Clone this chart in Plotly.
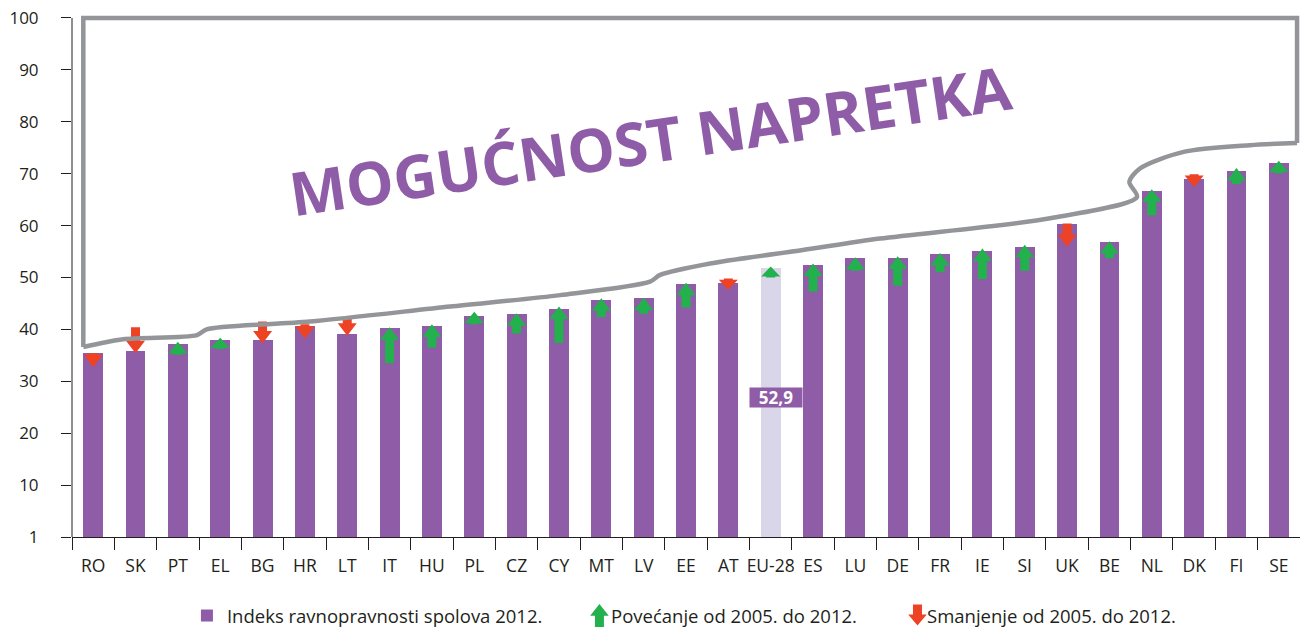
import plotly.graph_objects as go

# ---------------- data ----------------
categories = ['RO', 'SK', 'PT', 'EL', 'BG', 'HR', 'LT', 'IT', 'HU', 'PL', 'CZ', 'CY', 'MT', 'LV',
              'EE', 'AT', 'EU-28', 'ES', 'LU', 'DE', 'FR', 'IE', 'SI', 'UK', 'BE', 'NL', 'DK', 'FI', 'SE']
index_2012 = [35.4, 35.8, 37.2, 37.9, 37.9, 40.6, 39.2, 40.2, 40.6, 42.6, 43.0, 43.9, 45.6, 46.0,
              48.7, 49.0, 51.8, 52.4, 53.7, 53.8, 54.5, 55.2, 55.8, 60.3, 56.8, 66.6, 69.0, 70.5, 72.1]
# arrow start / end (change 2005 -> 2012 as drawn)
change_from = [35.4, 40.4, 35.1, 36.2, 41.5, 41.0, 42.1, 33.5, 36.5, 41.0, 39.2, 37.4, 42.4, 43.0,
               44.2, 49.8, 50.0, 47.3, 51.3, 48.4, 51.0, 49.7, 51.3, 60.4, 53.7, 62.0, 69.9, 68.0, 70.1]
change_to = [32.7, 35.4, 37.6, 38.4, 37.3, 38.2, 38.8, 40.4, 41.0, 43.4, 43.1, 44.4, 46.0, 46.1,
             49.0, 47.6, 52.1, 52.7, 53.9, 54.1, 54.7, 55.6, 56.3, 55.9, 57.0, 67.0, 67.4, 71.1, 72.5]
eu_label = '52,9'
eu_label_y = 26.8
highlight = 'EU-28'

# decorative "room for improvement" outline
outline_curve_x = [-0.233, 0.71, 2.45, 2.68, 5.12, 8.43, 11.03, 13.15, 13.39, 14.57, 16.76, 18.58,
                   22.6, 24.65, 24.47, 24.72, 25.75, 27.32, 28.43]
outline_curve_y = [36.6, 38.1, 38.9, 40.0, 41.5, 44.4, 46.6, 49.2, 50.5, 52.7, 55.3, 57.5,
                   61.4, 65.5, 68.4, 71.0, 74.2, 75.5, 75.9]
outline_top = 100

y_tickvals = [0, 10, 20, 30, 40, 50, 60, 70, 80, 90, 100]
y_ticktext = ['1', '10', '20', '30', '40', '50', '60', '70', '80', '90', '100']

title_text = 'MOGUĆNOST NAPRETKA'
legend_names = ['Indeks ravnopravnosti spolova 2012.', 'Povećanje od 2005. do 2012.',
                'Smanjenje od 2005. do 2012.']

# ---------------- styles ----------------
PURPLE = '#8f5ca7'
LAVENDER = '#d9d6ea'
GREEN = '#22b14c'
RED = '#ee4224'
GREY = '#939598'
TXT = '#231f20'
FONT = 'Open Sans'

n = len(categories)
xs = list(range(n))

fig = go.Figure()

bar_colors = [LAVENDER if c == highlight else PURPLE for c in categories]
fig.add_trace(go.Bar(x=xs, y=index_2012, width=0.47, marker=dict(color=bar_colors, line=dict(width=0)),
                     name=legend_names[0], legend='legend', showlegend=True, hoverinfo='skip'))


def arrow_polys(up):
    px, py = [], []
    sw, hw, hl = 0.106, 0.225, 2.4
    for i in xs:
        a, b = change_from[i], change_to[i]
        if (b > a) != up:
            continue
        L = abs(b - a)
        h = min(hl, 0.9 * L)
        d = 1 if up else -1
        neck = b - d * h
        px += [i - sw, i - sw, i - hw, i, i + hw, i + sw, i + sw, i - sw, None]
        py += [a, neck, neck, b, neck, neck, a, a, None]
    return px, py


for up, col in [(True, GREEN), (False, RED)]:
    ax_, ay_ = arrow_polys(up)
    fig.add_trace(go.Scatter(x=ax_, y=ay_, mode='lines', fill='toself', fillcolor=col,
                             line=dict(width=0, color=col), showlegend=False, hoverinfo='skip'))

# outline
fig.add_trace(go.Scatter(x=outline_curve_x, y=outline_curve_y, mode='lines',
                         line=dict(color=GREY, width=4.5, shape='spline', smoothing=0.8),
                         showlegend=False, hoverinfo='skip'))
fig.add_trace(go.Scatter(x=[outline_curve_x[0], outline_curve_x[0], outline_curve_x[-1], outline_curve_x[-1]],
                         y=[outline_curve_y[0], outline_top, outline_top, outline_curve_y[-1]],
                         mode='lines', line=dict(color=GREY, width=4.5),
                         showlegend=False, hoverinfo='skip'))

# legend entries for arrows (symbol drawn as shapes below)
fig.add_trace(go.Scatter(x=[None], y=[None], mode='markers', name=legend_names[1], legend='legend2',
                         marker=dict(symbol='square', color='rgba(0,0,0,0)', size=1)))
fig.add_trace(go.Scatter(x=[None], y=[None], mode='markers', name=legend_names[2], legend='legend3',
                         marker=dict(symbol='square', color='rgba(0,0,0,0)', size=1)))

# arrow icons for the legend (pixel-sized shapes)
up_icon = 'M -4.5 -11.5 L -4.5 0 L -9.3 0 L 0 11.7 L 9.3 0 L 4.5 0 L 4.5 -11.5 Z'
down_icon = 'M -4.5 10 L -4.5 0 L -9.3 0 L 0 -11 L 9.3 0 L 4.5 0 L 4.5 10 Z'
fig.add_shape(type='path', xref='paper', yref='paper', xsizemode='pixel', ysizemode='pixel',
              xanchor=0.4295, yanchor=-0.1493, path=up_icon, fillcolor=GREEN, line=dict(width=0))
fig.add_shape(type='path', xref='paper', yref='paper', xsizemode='pixel', ysizemode='pixel',
              xanchor=0.6885, yanchor=-0.1471, path=down_icon, fillcolor=RED, line=dict(width=0))

# y axis line (0..100)
fig.add_shape(type='line', xref='paper', yref='y', x0=0, x1=0, y0=0, y1=100,
              line=dict(color=TXT, width=1))

# EU label
eu_i = categories.index(highlight)
fig.add_annotation(x=eu_i + 0.12, y=eu_label_y, text='<b>' + eu_label + '</b>', showarrow=False,
                   bgcolor=PURPLE, borderpad=0, width=52, height=19,
                   font=dict(family=FONT, size=17, color='white'))

# title
fig.add_annotation(xref='paper', yref='paper', x=0.4707, y=0.753, xanchor='center', yanchor='middle',
                   text='<b>' + title_text + '</b>',
                   showarrow=False, textangle=-8.5, font=dict(family=FONT, size=60, color=PURPLE))

leg_common = dict(orientation='h', yanchor='middle', xanchor='left', y=-0.1499,
                  bgcolor='rgba(0,0,0,0)', font=dict(family=FONT, size=18.5, color=TXT))

fig.update_layout(
    width=1300, height=627,
    margin=dict(l=72, r=0, t=10, b=90, autoexpand=False),
    plot_bgcolor='white', paper_bgcolor='white',
    font=dict(family=FONT, size=16, color=TXT),
    bargap=0,
    legend=dict(x=0.0936, **leg_common),
    legend2=dict(x=0.4064, **leg_common),
    legend3=dict(x=0.6637, **leg_common),
    xaxis=dict(range=[-0.5, n - 0.5], tickmode='array', tickvals=xs, ticktext=categories,
               ticks='outside', ticklen=13, tickcolor='rgba(0,0,0,0)',
               showline=True, linecolor=TXT, linewidth=1, showgrid=False, zeroline=False,
               tickfont=dict(family=FONT, size=17.5, color=TXT),
               minor=dict(tickmode='array', tickvals=[i - 0.5 for i in range(n + 1)], ticks='outside',
                          ticklen=12, tickcolor=TXT, tickwidth=1, showgrid=False)),
    yaxis=dict(range=[0, 101.54], tickmode='array', tickvals=y_tickvals, ticktext=y_ticktext,
               ticks='outside', ticklen=10, tickcolor=TXT, tickwidth=1, showline=False,
               showgrid=False, zeroline=False, ticklabelstandoff=19, ticklabeloverflow='allow',
               tickfont=dict(family=FONT, size=17, color=TXT)),
)

# remove the default 8px page margin so the figure fills the window exactly
fig.write_html('out.html', config={'displayModeBar': False},
               post_script="document.body.style.margin='0px';")
